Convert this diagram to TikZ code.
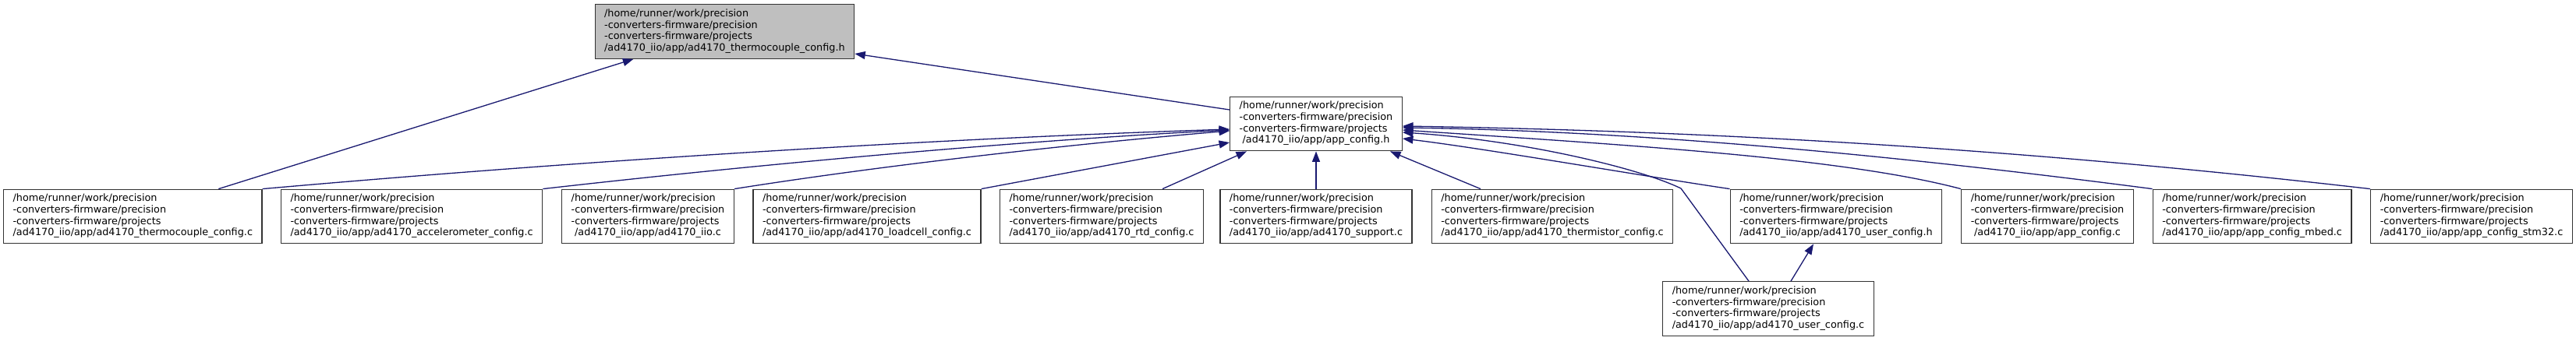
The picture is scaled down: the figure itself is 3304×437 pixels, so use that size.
\documentclass[tikz,border=0pt]{standalone}
\usepackage{fontspec}
\setmainfont{DejaVu Sans}
\usetikzlibrary{arrows.meta,calc}
\definecolor{edgeblue}{HTML}{191970}
\definecolor{rootfill}{HTML}{BFBFBF}
\definecolor{boxline}{HTML}{333333}
\newcommand{\dxlbl}[1]{\begin{tabular}{@{}l@{}}/home/runner/work/precision\\-converters-firmware/precision\\-converters-firmware/projects\\\multicolumn{1}{@{}c@{}}{#1}\end{tabular}}
\begin{document}
\begin{tikzpicture}[x=1pt,y=-1pt,
  filebox/.style={draw=boxline, line width=1.3pt, fill=white, inner xsep=12pt, inner ysep=0pt,
    minimum height=69.5pt, font=\fontsize{12.8}{14.7}\selectfont},
  rootbox/.style={filebox, fill=rootfill},
  dep/.style={draw=edgeblue, line width=1.3pt, -{Triangle[length=13.5pt,width=10pt]}}]
\fill[white] (0,0) rectangle (3304,437);
\useasboundingbox (0,0) rectangle (3304,437);
% nodes
\node[rootbox] (thH) at (929.4,40.5) {\dxlbl{/ad4170\_iio/app/ad4170\_thermocouple\_config.h}};
\node[filebox] (appH) at (1688,159) {\dxlbl{/ad4170\_iio/app/app\_config.h}};
\node[filebox] (thc) at (170.3,278) {\dxlbl{/ad4170\_iio/app/ad4170\_thermocouple\_config.c}};
\node[filebox] (acc) at (528.1,278) {\dxlbl{/ad4170\_iio/app/ad4170\_accelerometer\_config.c}};
\node[filebox] (iio) at (831,278) {\dxlbl{/ad4170\_iio/app/ad4170\_iio.c}};
\node[filebox] (loadc) at (1112,278) {\dxlbl{/ad4170\_iio/app/ad4170\_loadcell\_config.c}};
\node[filebox] (rtd) at (1413,278) {\dxlbl{/ad4170\_iio/app/ad4170\_rtd\_config.c}};
\node[filebox] (supp) at (1688,278) {\dxlbl{/ad4170\_iio/app/ad4170\_support.c}};
\node[filebox] (thermis) at (1991,278) {\dxlbl{/ad4170\_iio/app/ad4170\_thermistor\_config.c}};
\node[filebox] (uch) at (2355,278) {\dxlbl{/ad4170\_iio/app/ad4170\_user\_config.h}};
\node[filebox] (appc) at (2626,278) {\dxlbl{/ad4170\_iio/app/app\_config.c}};
\node[filebox] (mbed) at (2888.6,278) {\dxlbl{/ad4170\_iio/app/app\_config\_mbed.c}};
\node[filebox] (stm) at (3170,278) {\dxlbl{/ad4170\_iio/app/app\_config\_stm32.c}};
\node[filebox] (ucc) at (2268,396.5) {\dxlbl{/ad4170\_iio/app/ad4170\_user\_config.c}};
\coordinate (ucbend) at (2156,242);
% edges
\draw[dep] ($(thc.north)+(110,0)$) -- ($(thH.south)+(-117,0)$);
\draw[dep] ($(appH.west)+(0,-18)$) -- ($(thH.east)+(0,28.5)$);
\draw[dep] (thc.north east) .. controls (736,207.4) and (1177,179) .. ($(appH.west)+(0,7)$);
\draw[dep] (acc.north east) .. controls (995.7,208.5) and (1327,179.5) .. ($(appH.west)+(0,8)$);
\draw[dep] (iio.north east) .. controls (1141.6,211) and (1377,185) .. ($(appH.west)+(0,9)$);
\draw[dep] (loadc.north east) -- ($(appH.west)+(0,24)$);
\draw[dep] ($(rtd.north)+(78,0)$) -- ($(appH.south)+(-89,0)$);
\draw[dep] (supp.north) -- (appH.south);
\draw[dep] ($(thermis.north)+(-92,0)$) -- ($(appH.south)+(95,0)$);
\draw[dep] (uch.north west) .. controls (2100,225) and (1900,190) .. ($(appH.east)+(0,19)$);
\draw[dep] ($(ucc.north)+(-25,0)$) -- (ucbend) .. controls (2100,215) and (1950,180) .. ($(appH.east)+(0,11)$);
\draw[dep] (appc.north west) .. controls (2365,203) and (2099,187) .. ($(appH.east)+(0,8)$);
\draw[dep] (mbed.north west) .. controls (2511,210) and (2149,169) .. ($(appH.east)+(0,5)$);
\draw[dep] (stm.north west) .. controls (2696,203) and (2299,170) .. ($(appH.east)+(0,3)$);
\draw[dep] ($(ucc.north)+(29,0)$) -- ($(uch.south)+(-29,0)$);
\end{tikzpicture}
\end{document}
